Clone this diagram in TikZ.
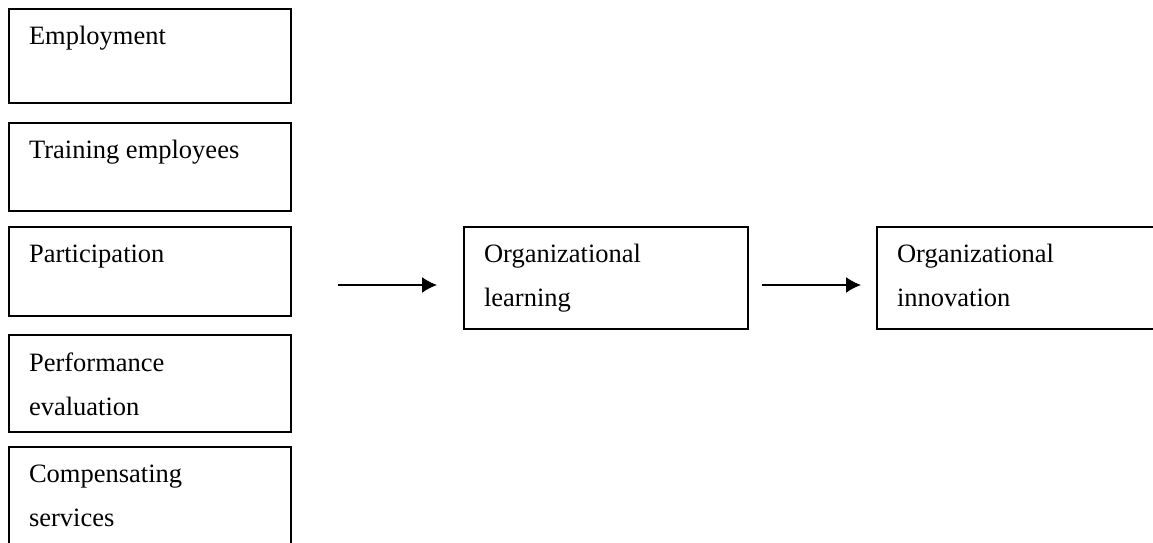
\documentclass[tikz,border=0pt]{standalone}
\usepackage{fontspec}
\setmainfont{Liberation Serif}
\usetikzlibrary{arrows.meta,positioning}

\tikzset{
  factor/.style={draw, line width=1.3pt, minimum width=282pt, inner sep=0pt},
  boxtext/.style={anchor=north west, inner sep=0pt, align=left,
                  font=\fontsize{26.5}{44}\selectfont},
  link/.style={line width=1.5pt, -{Latex[length=15pt,width=16pt]}}
}

\begin{document}
\begin{tikzpicture}[x=1pt, y=1pt]

                  \useasboundingbox (0,0) rectangle (1153,543);
                  \clip (0,0) rectangle (1153,543);

                  \begin{scope}
                    % HRM practices
                    \node[factor, minimum height=94pt] (employ) at (150,487) {};
                    \node[factor, minimum height=88pt] (train) at (150,376) {};
                    \node[factor, minimum height=89pt] (partic) at (150,271.5) {};
                    \node[factor, minimum height=97pt] (perf) at (150,159.5) {};
                    \node[factor, minimum height=113pt] (comp) at (150,39.5) {};

                    \node[boxtext] (employt) at ([shift={(20.5,-18)}]employ.north west) {Employment};
                    \node[boxtext] (traint) at ([shift={(20.5,-18)}]train.north west) {Training employees};
                    \node[boxtext] (partict) at ([shift={(20.5,-18)}]partic.north west) {Participation};
                    \node[boxtext] (perft) at ([shift={(20.5,-18)}]perf.north west) {Performance\\evaluation};
                    \node[boxtext] (compt) at ([shift={(20.5,-18)}]comp.north west) {Compensating\\services};
                  \end{scope}

                  \begin{scope}
                    % outcomes
                    \node[factor, minimum width=284pt, minimum height=102pt] (learn) at (606,265) {};
                    \node[factor, minimum width=283pt, minimum height=102pt] (innov) at (1018.5,265) {};

                    \node[boxtext] (learnt) at ([shift={(20.5,-18)}]learn.north west) {Organizational\\learning};
                    \node[boxtext] (innovt) at ([shift={(20.5,-18)}]innov.north west) {Organizational\\innovation};

                    \coordinate (l1) at (338,258);
                    \coordinate (l2) at (437,258);
                    \coordinate (l3) at (762,258);
                    \coordinate (l4) at (861,258);

                    \draw[link] (l1) -- (l2);
                    \draw[link] (l3) -- (l4);
                  \end{scope}

                \end{tikzpicture}
\end{document}
